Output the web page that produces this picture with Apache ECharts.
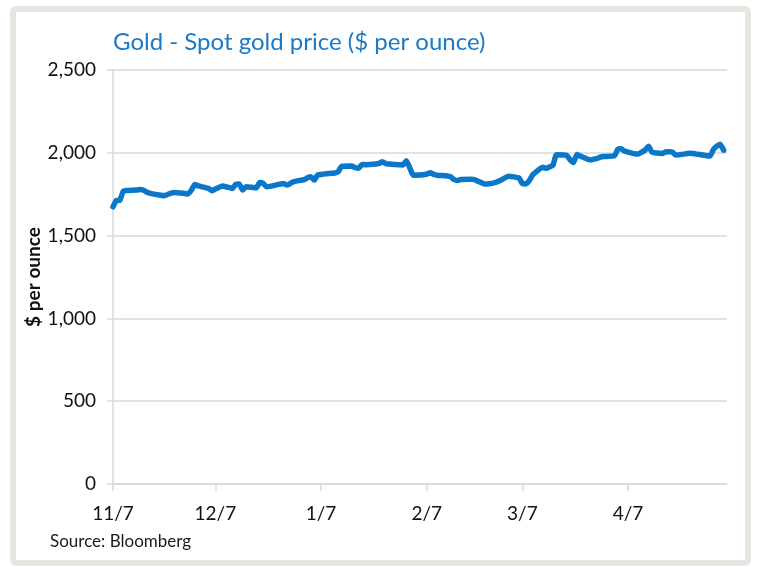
<!DOCTYPE html>
<html>
<head>
<meta charset="utf-8">
<script src="https://cdn.jsdelivr.net/npm/echarts@6/dist/echarts.min.js"></script>
<style>
html,body{margin:0;padding:0;background:#fff;}
#chart{width:758px;height:567px;}
</style>
</head>
<body>
<div id="chart"></div>
<script>
const titleText = 'Gold - Spot gold price ($ per ounce)';
const yAxisTitle = '$ per ounce';
const sourceText = 'Source: Bloomberg';
const xTickDates = ['2022-11-07','2022-12-07','2023-01-07','2023-02-07','2023-03-07','2023-04-07'];
const yTicks = [0, 500, 1000, 1500, 2000, 2500];

const dates = [
'2022-11-07','2022-11-08','2022-11-09','2022-11-10','2022-11-11','2022-11-14','2022-11-15','2022-11-16','2022-11-17','2022-11-18',
'2022-11-21','2022-11-22','2022-11-23','2022-11-24','2022-11-25','2022-11-28','2022-11-29','2022-11-30','2022-12-01','2022-12-02',
'2022-12-05','2022-12-06','2022-12-07','2022-12-08','2022-12-09','2022-12-12','2022-12-13','2022-12-14','2022-12-15','2022-12-16',
'2022-12-19','2022-12-20','2022-12-21','2022-12-22','2022-12-23','2022-12-27','2022-12-28','2022-12-29','2022-12-30','2023-01-02',
'2023-01-03','2023-01-04','2023-01-05','2023-01-06','2023-01-09','2023-01-10','2023-01-11','2023-01-12','2023-01-13','2023-01-16',
'2023-01-17','2023-01-18','2023-01-19','2023-01-20','2023-01-23','2023-01-24','2023-01-25','2023-01-26','2023-01-27','2023-01-30',
'2023-01-31','2023-02-01','2023-02-02','2023-02-03','2023-02-06','2023-02-07','2023-02-08','2023-02-09','2023-02-10','2023-02-13',
'2023-02-14','2023-02-15','2023-02-16','2023-02-17','2023-02-20','2023-02-21','2023-02-22','2023-02-23','2023-02-24','2023-02-27',
'2023-02-28','2023-03-01','2023-03-02','2023-03-03','2023-03-06','2023-03-07','2023-03-08','2023-03-09','2023-03-10','2023-03-13',
'2023-03-14','2023-03-15','2023-03-16','2023-03-17','2023-03-20','2023-03-21','2023-03-22','2023-03-23','2023-03-24','2023-03-27',
'2023-03-28','2023-03-29','2023-03-30','2023-03-31','2023-04-03','2023-04-04','2023-04-05','2023-04-06','2023-04-10','2023-04-11',
'2023-04-12','2023-04-13','2023-04-14','2023-04-17','2023-04-18','2023-04-19','2023-04-20','2023-04-21','2023-04-24','2023-04-25',
'2023-04-26','2023-04-27','2023-04-28','2023-05-01','2023-05-02','2023-05-03','2023-05-04','2023-05-05'
];
const prices = [
1674,1712,1714,1768,1772,1775,1779,1774,1762,1755,
1744,1741,1748,1756,1761,1754,1751,1775,1808,1800,
1785,1771,1781,1790,1800,1785,1810,1812,1775,1795,
1788,1820,1815,1795,1797,1814,1805,1815,1826,1838,
1849,1855,1835,1866,1875,1876,1878,1885,1918,1920,
1910,1906,1930,1928,1932,1936,1946,1934,1932,1928,
1926,1952,1910,1865,1868,1872,1879,1870,1865,1860,
1855,1838,1833,1839,1840,1838,1828,1820,1811,1820,
1828,1838,1850,1858,1848,1815,1812,1830,1866,1912,
1906,1915,1926,1988,1985,1958,1942,1990,1980,1956,
1962,1966,1976,1978,1982,2022,2024,2010,1992,2004,
2016,2040,2004,1996,2005,2006,2004,1986,1994,1998,
1996,1992,1990,1980,2020,2040,2052,2016
];

const FONT = 'Lato, "Open Sans", sans-serif';
const toTime = d => Date.parse(d + 'T00:00:00Z');
const tickTimes = xTickDates.map(toTime);
const chart = echarts.init(document.getElementById('chart'), null, {renderer: 'canvas'});

chart.setOption({
  animation: false,
  backgroundColor: '#ffffff',
  title: {
    text: titleText,
    left: 108,
    top: 25,
    textStyle: {color: '#1b7ac8', fontFamily: FONT, fontSize: 24, fontWeight: 'normal'}
  },
  graphic: [
    {type: 'rect', shape: {x: 13, y: 9, width: 735, height: 554, r: 3},
     style: {fill: 'none', stroke: '#e6e6e0', lineWidth: 6}, silent: true, z: -1},
    {type: 'text', left: 50, top: 533,
     style: {text: sourceText, fill: '#1a1a1a', font: '17px ' + FONT}}
  ],
  grid: {left: 113, right: 31, top: 70, bottom: 83, containLabel: false},
  xAxis: {
    type: 'value',
    min: toTime('2022-11-07'),
    max: toTime('2023-05-06'),
    splitLine: {show: false},
    axisLine: {show: true, lineStyle: {color: '#d9d9d9', width: 1.5}},
    axisTick: {show: true, customValues: tickTimes, length: 7, lineStyle: {color: '#d9d9d9', width: 1.5}},
    axisLabel: {
      customValues: tickTimes,
      margin: 20,
      color: '#111',
      fontFamily: FONT,
      fontSize: 19,
      formatter: function (v) {
        const d = new Date(v);
        return (d.getUTCMonth() + 1) + '/' + d.getUTCDate();
      }
    }
  },
  yAxis: {
    type: 'value',
    min: 0, max: 2500, interval: 500,
    name: yAxisTitle,
    nameLocation: 'middle',
    nameGap: 70,
    nameMoveOverlap: false,
    nameTextStyle: {fontFamily: FONT, fontSize: 19, fontWeight: 'bold', color: '#111'},
    axisLine: {show: true, lineStyle: {color: '#d9d9d9', width: 1.5}},
    axisTick: {show: true, length: 6, lineStyle: {color: '#d9d9d9', width: 1.5}},
    splitLine: {show: true, lineStyle: {color: '#d9d9d9', width: 1.5}},
    axisLabel: {
      margin: 17,
      color: '#111',
      fontFamily: FONT,
      fontSize: 19,
      formatter: v => v.toLocaleString('en-US')
    }
  },
  series: [{
    type: 'line',
    data: dates.map((d, i) => [toTime(d), prices[i]]),
    showSymbol: false,
    smooth: 0.15,
    lineStyle: {color: '#0b77c8', width: 5.5, cap: 'round', join: 'round'},
    itemStyle: {color: '#0b77c8'}
  }]
});
</script>
</body>
</html>
